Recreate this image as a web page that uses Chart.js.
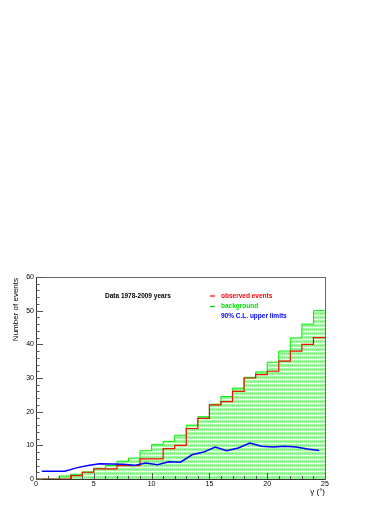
<!DOCTYPE html>
<html>
<head>
<meta charset="utf-8">
<script src="https://cdn.jsdelivr.net/npm/chart.js@4.4.1/dist/chart.umd.min.js"></script>
<style>
  html, body { margin: 0; padding: 0; background: #fff; }
  canvas { display: block; }
</style>
</head>
<body>
<canvas id="c" width="390" height="505"></canvas>
<script>
// bin lower edges (width 1 degree)
const binLow = [0, 1, 2, 3, 4, 5, 6, 7, 8, 9, 10, 11, 12, 13, 14, 15, 16, 17, 18, 19, 20, 21, 22, 23, 24];
const binCenters = [0.5, 1.5, 2.5, 3.5, 4.5, 5.5, 6.5, 7.5, 8.5, 9.5, 10.5, 11.5, 12.5, 13.5, 14.5, 15.5, 16.5, 17.5, 18.5, 19.5, 20.5, 21.5, 22.5, 23.5, 24.5];
const observed = [0, 0, 0, 1, 2, 3, 3, 4, 4, 6, 6, 9, 10, 15, 18, 22, 23, 26, 30, 31, 32, 35, 38, 40, 42];
const background = [0, 0, 0.9, 1.4, 2.1, 3.2, 4, 5.3, 6.2, 8.4, 10.2, 11.2, 13, 16, 18.5, 22.2, 24.5, 27, 30.2, 31.8, 34.7, 38, 41.9, 46, 50];
const upperLimits = [2.3, 2.3, 2.3, 3.3, 4.0, 4.55, 4.45, 4.35, 4.05, 4.75, 4.25, 5.1, 5.0, 7.2, 8.0, 9.5, 8.4, 9.2, 10.7, 9.7, 9.5, 9.7, 9.5, 8.9, 8.5];
const xTicks = [0, 5, 10, 15, 20, 25];
const yTicks = [0, 10, 20, 30, 40, 50, 60];
const xMinorStep = 1;
const yMinorStep = 2;

const FONT = '"Liberation Sans", Arial, Helvetica, sans-serif';

function histPoints(vals) {
  const pts = binLow.map((x, i) => ({ x, y: vals[i] }));
  pts.push({ x: binLow[binLow.length - 1] + 1, y: vals[vals.length - 1] });
  return pts;
}

const ctx = document.getElementById('c').getContext('2d');

// light green dotted hatch like ROOT fill style
function hatchPattern() {
  const t = document.createElement('canvas');
  t.width = 4; t.height = 4;
  const g = t.getContext('2d');
  g.fillStyle = '#a4f7a4'; g.fillRect(0, 0, 4, 4);
  g.fillStyle = '#eaffea'; g.fillRect(0, 3, 4, 1);
  g.fillStyle = '#6fe66f'; g.fillRect(0, 1, 1, 1); g.fillRect(2, 1, 1, 1);
  return ctx.createPattern(t, 'repeat');
}

const rootFrame = {
  id: 'rootFrame',
  afterDraw(chart) {
    const { ctx, chartArea: a, scales: { x, y } } = chart;
    ctx.save();

    // frame
    ctx.strokeStyle = '#666';
    ctx.lineWidth = 1;
    ctx.strokeRect(Math.round(a.left) + 0.5, Math.round(a.top) + 0.5, Math.round(a.right - a.left), Math.round(a.bottom - a.top));

    // axes
    ctx.strokeStyle = '#333';
    ctx.beginPath();
    ctx.moveTo(a.left + 0.5, a.top); ctx.lineTo(a.left + 0.5, a.bottom + 0.5);
    ctx.lineTo(a.right, a.bottom + 0.5);
    ctx.stroke();

    // ticks
    ctx.strokeStyle = '#555';
    ctx.beginPath();
    for (let v = y.min; v <= y.max + 1e-9; v += yMinorStep) {
      const py = Math.round(y.getPixelForValue(v)) + 0.5;
      const len = yTicks.includes(v) ? 7 : 3.5;
      ctx.moveTo(a.left, py); ctx.lineTo(a.left + len, py);
    }
    for (let v = x.min; v <= x.max + 1e-9; v += xMinorStep) {
      const px = Math.round(x.getPixelForValue(v)) + 0.5;
      const len = xTicks.includes(v) ? 6 : 3;
      ctx.moveTo(px, a.bottom); ctx.lineTo(px, a.bottom - len);
    }
    ctx.stroke();

    // tick labels
    ctx.fillStyle = '#000';
    ctx.font = '7px ' + FONT;
    ctx.textAlign = 'right';
    ctx.textBaseline = 'middle';
    yTicks.forEach(v => ctx.fillText(String(v), a.left - 2, y.getPixelForValue(v)));
    ctx.textAlign = 'center';
    ctx.textBaseline = 'top';
    xTicks.forEach(v => ctx.fillText(String(v), x.getPixelForValue(v), a.bottom + 2));

    // axis titles
    ctx.font = '8px ' + FONT;
    ctx.textAlign = 'right';
    ctx.textBaseline = 'top';
    ctx.fillText('γ (°)', a.right, a.bottom + 9);
    ctx.save();
    ctx.translate(12, a.top + 1);
    ctx.rotate(-Math.PI / 2);
    ctx.textAlign = 'right';
    ctx.textBaseline = 'top';
    ctx.fillText('Number of events', 0, 0);
    ctx.restore();

    // caption
    ctx.font = 'bold 6.5px ' + FONT;
    ctx.textAlign = 'left';
    ctx.textBaseline = 'middle';
    ctx.fillStyle = '#000';
    ctx.fillText('Data 1978-2009 years', 105, 296);

    // legend
    const legend = [
      { text: 'observed events', color: '#ff0000', mark: true, y: 296 },
      { text: 'background', color: '#00e000', mark: true, y: 306.5 },
      { text: '90% C.L. upper limits', color: '#0000ff', mark: false, y: 316.5 }
    ];
    legend.forEach(l => {
      if (l.mark) {
        ctx.strokeStyle = l.color;
        ctx.lineWidth = 1.2;
        ctx.beginPath();
        ctx.moveTo(210, l.y); ctx.lineTo(215, l.y);
        ctx.stroke();
      }
      ctx.fillStyle = l.color;
      ctx.fillText(l.text, 221, l.y);
    });

    ctx.restore();
  }
};

new Chart(ctx, {
  type: 'line',
  data: {
    datasets: [
      {
        label: '90% C.L. upper limits',
        data: binCenters.map((x, i) => ({ x, y: upperLimits[i] })),
        borderColor: '#0000ff',
        borderWidth: 1.5,
        pointRadius: 0,
        tension: 0,
        fill: false,
        order: 0
      },
      {
        label: 'observed events',
        data: histPoints(observed),
        borderColor: '#ee1100',
        borderWidth: 1.2,
        pointRadius: 0,
        stepped: 'before',
        fill: false,
        order: 1
      },
      {
        label: 'background',
        data: histPoints(background),
        borderColor: '#00ee00',
        backgroundColor: hatchPattern(),
        borderWidth: 1,
        pointRadius: 0,
        stepped: 'before',
        fill: 'origin',
        order: 2
      }
    ]
  },
  options: {
    responsive: false,
    animation: false,
    layout: { padding: { left: 36, right: 65, top: 277, bottom: 26 } },
    scales: {
      x: { type: 'linear', min: 0, max: 25, display: false },
      y: { min: 0, max: 60, display: false }
    },
    plugins: {
      legend: { display: false },
      tooltip: { enabled: false }
    }
  },
  plugins: [rootFrame]
});
</script>
</body>
</html>
